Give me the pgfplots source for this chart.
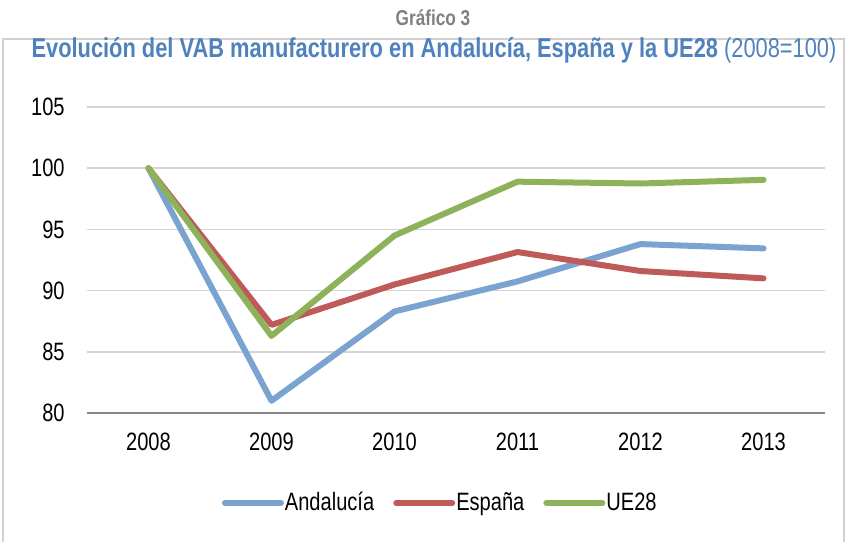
\documentclass[border=0pt]{standalone}
\usepackage{fontspec}
\setmainfont{Liberation Sans}[FakeStretch=0.8]
\usepackage{pgfplots}
\pgfplotsset{compat=1.18}
\definecolor{cAnd}{HTML}{7BA3D0}
\definecolor{cEsp}{HTML}{BE5A58}
\definecolor{cUE}{HTML}{8DB25A}
\definecolor{titleblue}{HTML}{4F81BD}
\definecolor{titlegray}{HTML}{808080}
\definecolor{framegray}{HTML}{D0D0D0}
\definecolor{gridgray}{HTML}{D4D4D4}
\definecolor{axisgray}{HTML}{868686}
\begin{document}
\begin{tikzpicture}[x=0.5bp,y=-0.5bp]
\useasboundingbox (0,0) rectangle (846,542);
\draw[color=framegray, line width=1bp] (3,545) -- (3,39) -- (844,39) -- (844,545);
\node[font=\bfseries\fontsize{10.8}{12}\selectfont, text=titlegray] at (433,18) {Gráfico 3};
\node[font=\fontsize{13.7}{15}\selectfont, text=titleblue] at (434,50) {\textbf{Evolución del VAB manufacturero en Andalucía, España y la UE28} (2008=100)};
\begin{axis}[
  at={(43.5bp,-206.5bp)}, anchor=south west,
  scale only axis, width=369bp, height=153bp,
  xmin=-0.5, xmax=5.5, ymin=80, ymax=105,
  ytick={80,85,90,95,100,105},
  xtick={0,1,2,3,4,5},
  xticklabels={2008,2009,2010,2011,2012,2013},
  ymajorgrids,
  grid style={color=gridgray, line width=0.8bp},
  axis x line*=bottom, axis y line*=left,
  x axis line style={draw=axisgray, line width=1bp, -},
  y axis line style={draw=none},
  major tick length=0pt,
  tick label style={font=\fontsize{12.6}{14}\selectfont, inner sep=0pt},
  /pgf/number format/assume math mode=true,
  yticklabel style={anchor=east, xshift=-11bp},
  xticklabel style={anchor=north, yshift=-10bp},
  legend columns=3,
  legend style={draw=none, fill=none, at={(axis description cs:0.478,0)}, anchor=center, yshift=-45bp,
    font=\fontsize{12.6}{14}\selectfont,
    /tikz/every even column/.append style={column sep=9bp},
    nodes={inner sep=0.5pt}},
  legend image code/.code={\draw[line width=3bp, line cap=round] (0bp,0bp) -- (28bp,0bp);},
  every axis plot/.append style={line width=3bp, line join=round, line cap=round},
]
\addplot[color=cAnd] coordinates {(0,100) (1,81.0) (2,88.3) (3,90.75) (4,93.8) (5,93.45)};
\addplot[color=cEsp] coordinates {(0,100) (1,87.2) (2,90.5) (3,93.15) (4,91.6) (5,91.0)};
\addplot[color=cUE] coordinates {(0,100) (1,86.3) (2,94.5) (3,98.9) (4,98.75) (5,99.05)};
\legend{Andalucía,España,UE28}
\end{axis}
\end{tikzpicture}
\end{document}
